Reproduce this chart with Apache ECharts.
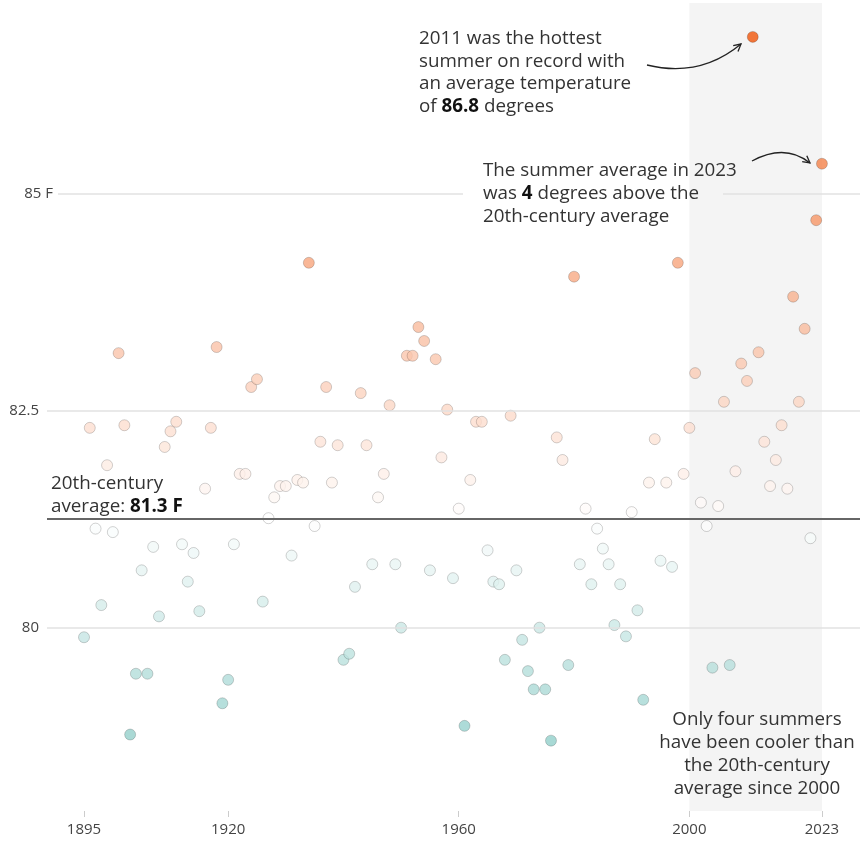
<!DOCTYPE html>
<html><head><meta charset="utf-8">
<script src="https://cdn.jsdelivr.net/npm/echarts@6/dist/echarts.min.js"></script>
<style>html,body{margin:0;padding:0;background:#fff}#c{width:861px;height:843px}</style>
</head><body><div id="c"></div><script>
// ---- data ----
const firstYear = 1895;
const temps = [
  79.89, 82.30, 81.14, 80.26, 81.87, 81.10, 83.16, 82.33, 78.77, 79.47, // 1895-1904
  80.66, 79.47, 80.93, 80.13, 82.08, 82.26, 82.37, 80.96, 80.53, 80.86, // 1905-1914
  80.19, 81.60, 82.30, 83.23, 79.13, 79.40, 80.96, 81.77, 81.77, 82.77, // 1915-1924
  82.86, 80.30, 81.26, 81.50, 81.63, 81.63, 80.83, 81.70, 81.67, 84.20, // 1925-1934
  81.17, 82.14, 82.77, 81.67, 82.10, 79.63, 79.70, 80.47, 82.70, 82.10, // 1935-1944
  80.73, 81.50, 81.77, 82.56, 80.73, 80.00, 83.13, 83.13, 83.46, 83.30, // 1945-1954
  80.66, 83.09, 81.96, 82.51, 80.57, 81.37, 78.87, 81.70, 82.37, 82.37, // 1955-1964
  80.89, 80.53, 80.50, 79.63, 82.44, 80.66, 79.86, 79.50, 79.29, 80.00, // 1965-1974
  79.29, 78.70, 82.19, 81.93, 79.57, 84.04, 80.73, 81.37, 80.50, 81.14, // 1975-1984
  80.91, 80.73, 80.03, 80.50, 79.90, 81.33, 80.20, 79.17, 81.67, 82.17, // 1985-1994
  80.77, 81.67, 80.70, 84.20, 81.77, 82.30, 82.93, 81.44, 81.17, 79.54, // 1995-2004
  81.40, 82.60, 79.57, 81.80, 83.04, 82.84, 86.80, 83.17, 82.14, 81.63, // 2005-2014
  81.93, 82.33, 81.60, 83.81, 82.60, 83.44, 81.03, 84.69, 85.34         // 2015-2023
];
const avgTemp = 81.25;               // 20th-century average (labelled 81.3 F)
const gridValues = [80, 82.5, 85];
const gridLabels = ['80', '82.5', '85 F'];
const xTickYears = [1895, 1920, 1960, 2000, 2023];
const shadeYears = [2000, 2023];

// ---- layout constants ----
const X_MIN = 1888.58, X_MAX = 2029.6, Y_MIN = 77.89, Y_MAX = 87.19;
const FONT = '"Open Sans", "Noto Sans", sans-serif';

function mix(a, b, t) {
  return 'rgb(' + a.map((v, i) => Math.round(v + (b[i] - v) * t)).join(',') + ')';
}
const WHITE = [255, 255, 255], HOT = [240, 85, 10], COLD = [146, 207, 202];
function colorFor(v) {
  if (v >= avgTemp) return mix(WHITE, HOT, Math.min(1, (v - avgTemp) / (86.8 - avgTemp)));
  return mix(WHITE, COLD, Math.min(1, (avgTemp - v) / (avgTemp - 78.7)));
}

const points = temps.map((v, i) => [firstYear + i, v]);

const gridLineStyle = { color: '#e2e2e2', width: 1.5, type: 'solid' };
const labelStyle = { show: true, position: 'start', color: '#444', fontSize: 15, fontFamily: FONT };
const markLines = [
  [{ xAxis: 1890.49, yAxis: gridValues[2], label: Object.assign({}, labelStyle, { formatter: gridLabels[2], distance: 5 }) },
   { xAxis: 1960.74, yAxis: gridValues[2] }],
  [{ xAxis: 2005.84, yAxis: gridValues[2] }, { xAxis: X_MAX, yAxis: gridValues[2] }],
  [{ xAxis: X_MIN, yAxis: gridValues[1], label: Object.assign({}, labelStyle, { formatter: gridLabels[1], distance: 8 }) },
   { xAxis: X_MAX, yAxis: gridValues[1] }],
  [{ xAxis: X_MIN, yAxis: gridValues[0], label: Object.assign({}, labelStyle, { formatter: gridLabels[0], distance: 8 }) },
   { xAxis: X_MAX, yAxis: gridValues[0] }],
  [{ xAxis: X_MIN, yAxis: avgTemp, lineStyle: { color: '#666', width: 2 } },
   { xAxis: X_MAX, yAxis: avgTemp }]
];

function arrowHead(tip, w1, w2) {
  return { type: 'polyline', z: 20, silent: true,
    shape: { points: [w1, tip, w2] },
    style: { stroke: '#222', lineWidth: 1.3, fill: null } };
}
const FS = 18.8;
const textBase = { fontSize: FS, fontFamily: FONT, fill: '#333', lineHeight: 22.8 };
const boldRich = { b: { fontSize: FS, fontFamily: FONT, fontWeight: 'bold', fill: '#111', lineHeight: 22.8 } };

const chart = echarts.init(document.getElementById('c'), null, { renderer: 'canvas' });
chart.setOption({
  animation: false,
  backgroundColor: '#fff',
  grid: { left: 47, right: 1, top: 3, bottom: 32, containLabel: false },
  xAxis: {
    type: 'value', min: X_MIN, max: X_MAX,
    axisLine: { show: false },
    splitLine: { show: false },
    axisTick: { show: true, customValues: xTickYears, length: 6, lineStyle: { color: '#ccc' } },
    axisLabel: { customValues: xTickYears, color: '#444', fontSize: 15, fontFamily: FONT, margin: 11,
      formatter: v => String(v) }
  },
  yAxis: {
    type: 'value', min: Y_MIN, max: Y_MAX,
    axisLine: { show: false }, axisTick: { show: false },
    axisLabel: { show: false }, splitLine: { show: false }
  },
  series: [
    {
      type: 'line', data: [], z: 1, silent: true,
      markArea: { silent: true, itemStyle: { color: '#f4f4f4' },
        data: [[{ xAxis: shadeYears[0] }, { xAxis: shadeYears[1] }]] },
      markLine: { silent: true, symbol: ['none', 'none'], animation: false,
        lineStyle: gridLineStyle, label: { show: false }, data: markLines }
    },
    {
      type: 'scatter', z: 3, data: points, symbolSize: 11, clip: false,
      itemStyle: {
        color: p => colorFor(p.value[1]),
        borderColor: 'rgba(0,0,0,0.22)', borderWidth: 1
      }
    }
  ],
  graphic: [
    { type: 'text', left: 419, top: 27, z: 20, silent: true,
      style: Object.assign({}, textBase, { text: '2011 was the hottest\nsummer on record with\nan average temperature\nof {b|86.8} degrees', rich: boldRich }) },
    { type: 'text', left: 483, top: 159.5, z: 20, silent: true,
      style: Object.assign({}, textBase, { text: 'The summer average in 2023\nwas {b|4} degrees above the\n20th-century average', rich: boldRich }) },
    { type: 'text', left: 51, top: 472.5, z: 20, silent: true,
      style: Object.assign({}, textBase, { text: '20th-century\naverage: {b|81.3 F}', rich: boldRich }) },
    { type: 'text', x: 757, y: 708.5, z: 20, silent: true,
      style: Object.assign({}, textBase, { text: 'Only four summers\nhave been cooler than\nthe 20th-century\naverage since 2000', align: 'center', verticalAlign: 'top' }) },
    { type: 'bezierCurve', z: 20, silent: true,
      shape: { x1: 647, y1: 65, x2: 741, y2: 44, cpx1: 700, cpy1: 78 },
      style: { stroke: '#222', lineWidth: 1.3, fill: null } },
    arrowHead([741, 44], [733.2, 45.6], [738, 51.4]),
    { type: 'bezierCurve', z: 20, silent: true,
      shape: { x1: 752, y1: 161, x2: 810, y2: 163, cpx1: 785, cpy1: 143 },
      style: { stroke: '#222', lineWidth: 1.3, fill: null } },
    arrowHead([810, 163], [806.8, 155.7], [802.2, 161.6])
  ]
});
</script></body></html>
